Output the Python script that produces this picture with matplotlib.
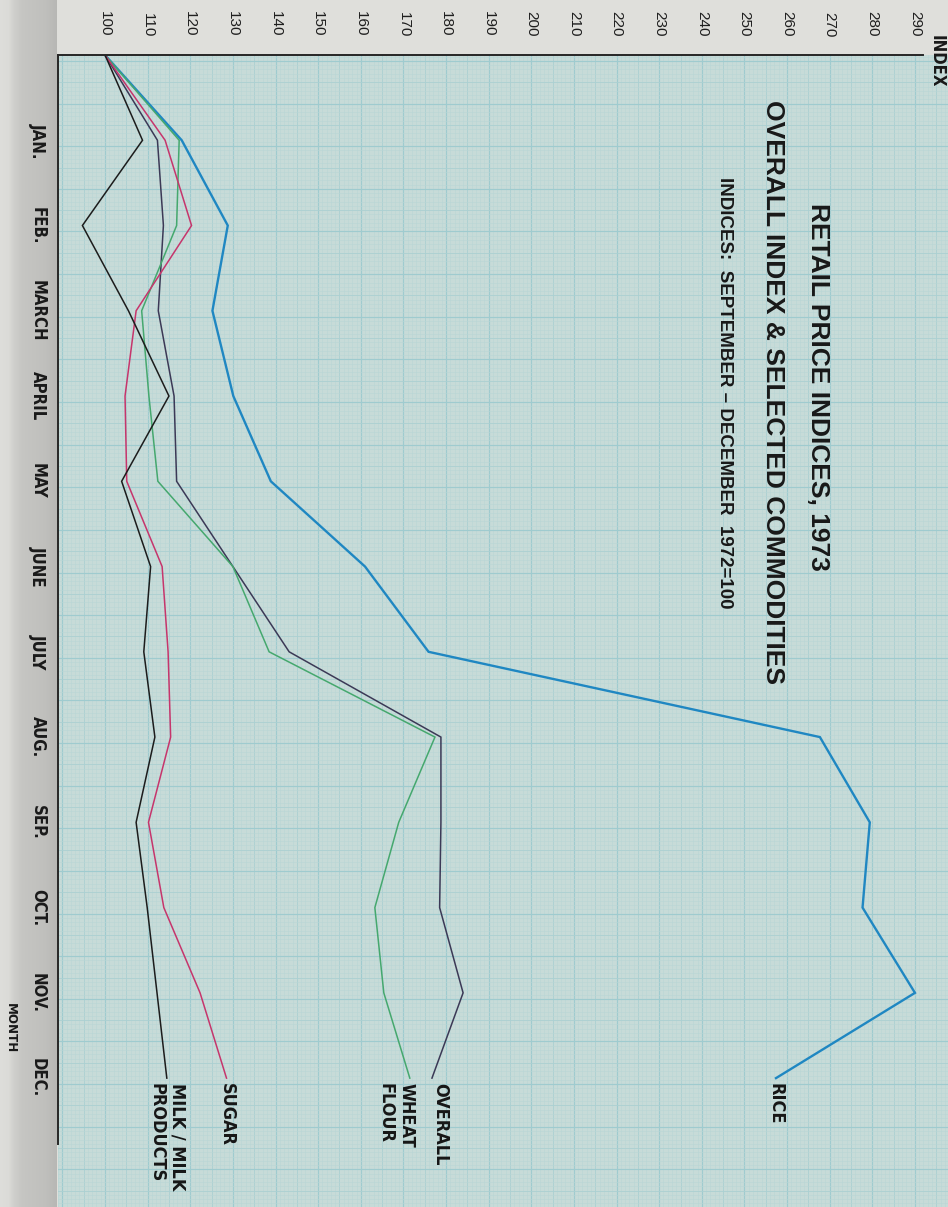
import numpy as np
import matplotlib
matplotlib.use("Agg")
import matplotlib.pyplot as plt
from matplotlib import font_manager as fm
from matplotlib import transforms as mtransforms

# ---------------- data ----------------
months = ["JAN.", "FEB.", "MARCH", "APRIL", "MAY", "JUNE", "JULY",
          "AUG.", "SEP.", "OCT.", "NOV.", "DEC."]
month_pos = list(range(0, 13))          # 0 = base period (Sep-Dec 1972 = 100)
rice    = [100, 118.0, 128.8, 125.2, 130.1, 138.9, 161.0, 175.9, 267.7, 279.4, 277.7, 290.0, 257.4]
overall = [100, 112.3, 113.7, 112.5, 116.2, 116.8, 130.0, 143.2, 178.8, 178.8, 178.5, 184.0, 176.7]
wheat   = [100, 117.4, 116.8, 108.6, 110.3, 112.4, 130.0, 138.5, 177.4, 168.9, 163.3, 165.4, 171.5]
sugar   = [100, 114.1, 120.3, 107.3, 104.7, 105.1, 113.4, 114.8, 115.4, 110.2, 113.8, 122.3, 128.5]
milk    = [100, 108.8, 94.7, 105.5, 115.0, 103.9, 110.7, 109.1, 111.7, 107.3, 109.9, 112.2, 114.5]
index_ticks = list(range(100, 300, 10))
series_names = ["RICE", "OVERALL", "WHEAT\nFLOUR", "SUGAR", "MILK / MILK\nPRODUCTS"]

# ---------------- fonts ----------------
names = {f.name for f in fm.fontManager.ttflist}
if "Liberation Sans Narrow" in names:
    NARROW = ["Liberation Sans Narrow", "DejaVu Sans"]
    narrow_kw = {}
else:
    NARROW = ["DejaVu Sans"]
    narrow_kw = {"fontstretch": "condensed"}
REG = ["Liberation Sans", "DejaVu Sans"]

W, H = 948, 1207
fig = plt.figure(figsize=(W / 100, H / 100), dpi=100)
fig.patch.set_facecolor("#dfdfdb")

# page background: binding shadow at left, light paper at top
bg = fig.add_axes([0, 0, 1, 1], zorder=-10)
bg.set_axis_off()
xs = np.arange(W)
v = np.interp(xs, [0, 8, 14, 22, 45, 56, 57], [0.87, 0.86, 0.81, 0.775, 0.75, 0.72, 0.875])
img = np.ones((H, W, 3))
img[:, :, 0] = v
img[:, :, 1] = v
img[:, :, 2] = v * 0.985
bg.imshow(img, aspect="auto", extent=[0, W, H, 0])
bg.set_xlim(0, W)
bg.set_ylim(H, 0)

# ---------------- main axes (rotated chart) ----------------
px_per_unit = 4.263     # pixels per index point
px_per_month = 85.26
x0_px, top_px = 58, 55
ax = fig.add_axes([x0_px / W, 0, (W - x0_px) / W, (H - top_px) / H])
ax.set_facecolor("#c7dbd8")
xmin = 100 + (x0_px - 105) / px_per_unit
xmax = 100 + (W - 105) / px_per_unit
ymax = (H - top_px) / px_per_month
ax.set_xlim(xmin, xmax)
ax.set_ylim(ymax, 0)


def grid_style(k):
    if k % 10 == 0:
        return "#9fcbcf", 0.85
    if k % 5 == 0:
        return "#abd0d2", 0.6
    return "#b9d6d6", 0.4


# graph paper grid
for g in np.arange(np.ceil(xmin), xmax, 1.0):
    c, lw = grid_style(int(g))
    ax.axvline(g, color=c, lw=lw, zorder=0.5)
for k in range(-2, int(ymax / 0.05) + 2):
    c, lw = grid_style(k)
    ax.axhline(0.07 + k * 0.05, color=c, lw=lw, zorder=0.5)

# series lines
colors = ["#1f87c2", "#3b3956", "#45a86e", "#c6356c", "#1c1c1c"]
widths = [1.7, 1.1, 1.1, 1.1, 1.1]
data = [rice, overall, wheat, sugar, milk]
for d, c, lw in zip(data, colors, widths):
    ax.plot(d, month_pos, color=c, lw=lw, zorder=3, solid_joinstyle="miter")

# series labels at line ends
offsets_pt = [0, 6, -10, 0, 0]
for d, name, dx in zip(data, series_names, offsets_pt):
    tr = mtransforms.offset_copy(ax.transData, fig=fig, x=dx, y=0, units="points")
    ax.text(d[-1], 12.06, name, transform=tr, rotation=-90, ha="center", va="top",
            multialignment="left", fontsize=13, fontweight="bold", family=NARROW,
            color="#161616", linespacing=1.2, zorder=4, **narrow_kw)

# frame
for s in ["right", "bottom"]:
    ax.spines[s].set_visible(False)
ax.spines["top"].set_bounds(xmin, 100 + (923 - 105) / px_per_unit)
ax.spines["left"].set_bounds(0, (1144 - top_px) / px_per_month)
for s in ["top", "left"]:
    ax.spines[s].set_color("#262626")
    ax.spines[s].set_linewidth(1.4)
    ax.spines[s].set_zorder(5)

# index ticks on top
ax.xaxis.tick_top()
ax.set_xticks(index_ticks)
ax.set_xticklabels([str(t) for t in index_ticks])
ax.tick_params(axis="x", length=0, pad=13, labelsize=11, labelcolor="#1e1e1e")
for lab in ax.get_xticklabels():
    lab.set_rotation(-90)
    lab.set_family(REG)
    lab.set_ha("center")
    lab.set_va("bottom")

# month ticks on left
ax.set_yticks(month_pos[1:])
ax.set_yticklabels(months)
ax.tick_params(axis="y", length=0, pad=8, labelsize=12, labelcolor="#1a1a1a")
for lab in ax.get_yticklabels():
    lab.set_rotation(-90)
    lab.set_family(NARROW)
    lab.set_fontweight("bold")
    lab.set_ha("right")
    lab.set_va("center")
    if narrow_kw:
        lab.set_fontstretch("condensed")

# titles
fig.text(818 / W, 1 - 203 / H, "RETAIL PRICE INDICES, 1973", rotation=-90,
         ha="center", va="top", fontsize=19, fontweight="bold", family=REG, color="#181818")
fig.text(773 / W, 1 - 100 / H, "OVERALL INDEX & SELECTED COMMODITIES", rotation=-90,
         ha="center", va="top", fontsize=19, fontweight="bold", family=REG, color="#181818")
fig.text(725 / W, 1 - 177 / H, "INDICES:  SEPTEMBER \u2013 DECEMBER  1972=100", rotation=-90,
         ha="center", va="top", fontsize=13.5, fontweight="bold", family=REG, color="#181818")

# axis names
fig.text(937 / W, 1 - 35 / H, "INDEX", rotation=-90, ha="center", va="top",
         fontsize=12, fontweight="bold", family=NARROW, color="#181818", **narrow_kw)
fig.text(10 / W, 1 - 1003 / H, "MONTH", rotation=-90, ha="center", va="top",
         fontsize=9.5, fontweight="bold", family=NARROW, color="#181818", **narrow_kw)

fig.savefig("out.png", dpi=100, facecolor=fig.get_facecolor())
